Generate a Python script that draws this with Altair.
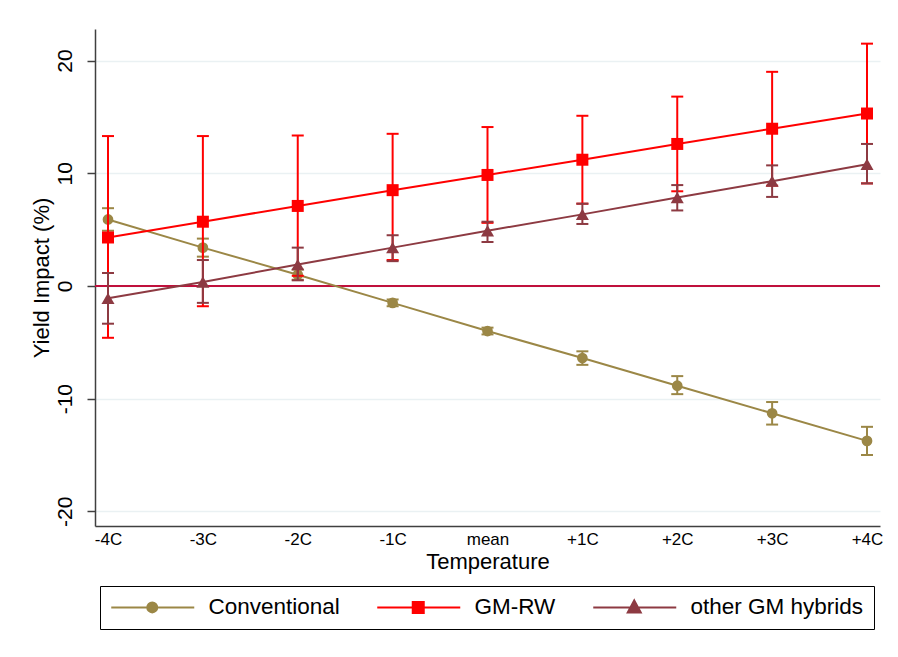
import altair as alt
import pandas as pd

categories = ["-4C", "-3C", "-2C", "-1C", "mean", "+1C", "+2C", "+3C", "+4C"]
series_names = ["Conventional", "GM-RW", "other GM hybrids"]

conv_mean = [5.9, 3.4, 1.0, -1.5, -4.0, -6.4, -8.85, -11.3, -13.75]
conv_low = [4.9, 2.6, 0.55, -1.8, -4.3, -7.0, -9.6, -12.3, -15.0]
conv_high = [6.9, 4.2, 1.45, -1.2, -3.7, -5.8, -8.0, -10.3, -12.5]

gmrw_mean = [4.3, 5.7, 7.1, 8.5, 9.85, 11.2, 12.6, 13.95, 15.3]
gmrw_low = [-4.6, -1.8, 0.9, 2.3, 5.6, 7.3, 8.4, 8.9, 9.1]
gmrw_high = [13.3, 13.3, 13.35, 13.5, 14.1, 15.1, 16.8, 19.0, 21.5]

other_mean = [-1.1, 0.35, 1.9, 3.4, 4.9, 6.35, 7.85, 9.3, 10.8]
other_low = [-3.35, -1.5, 0.5, 2.2, 3.9, 5.5, 6.7, 7.9, 9.1]
other_high = [1.15, 2.3, 3.4, 4.5, 5.7, 7.3, 8.95, 10.7, 12.6]

colors = ["#9b8746", "#ff0000", "#8d3a42"]
zero_color = "#c0103c"
FONT = "Liberation Sans"

rows = []
for name, m, lo, hi in [
    ("Conventional", conv_mean, conv_low, conv_high),
    ("GM-RW", gmrw_mean, gmrw_low, gmrw_high),
    ("other GM hybrids", other_mean, other_low, other_high),
]:
    for c, a, b, d in zip(categories, m, lo, hi):
        rows.append({"temp": c, "series": name, "mean": a, "low": b, "high": d})
df = pd.DataFrame(rows)

xenc = alt.X(
    "temp:O",
    sort=categories,
    scale=alt.Scale(type="point", padding=0.137),
    axis=alt.Axis(
        title="Temperature", labelAngle=0, ticks=False, labelPadding=5,
        labelFontSize=17, titleFontSize=22, titlePadding=4, grid=False,
    ),
)
yscale = alt.Scale(domain=[-21.3, 22.8], nice=False, zero=False)
yaxis = alt.Axis(
    title="Yield Impact (%)", values=[-20, -10, 0, 10, 20], labelAngle=270,
    labelAlign="center", labelBaseline="bottom", labelFontSize=21,
    labelExpr="datum.value + ''",
    tickSize=8, labelPadding=12, titleFontSize=22, titlePadding=1,
    grid=True, gridColor="#eaf1f3", gridWidth=1.5,
)

base = alt.Chart(df)

zero = base.mark_rule(color=zero_color, strokeWidth=2).encode(
    y=alt.datum(0, scale=yscale, axis=yaxis)
)

shapes = {"Conventional": ("circle", 115), "GM-RW": ("square", 144), "other GM hybrids": ("triangle-up", 170)}

layers = [zero]
for name, colr in zip(series_names, colors):
    sb = base.transform_filter(alt.datum.series == name)
    rule = sb.mark_rule(strokeWidth=2, color=colr).encode(
        x=xenc, y=alt.Y("low:Q", scale=yscale, axis=yaxis), y2="high:Q"
    )
    tlo = sb.mark_tick(size=12, thickness=2, opacity=1, color=colr).encode(
        x=xenc, y=alt.Y("low:Q", scale=yscale, axis=yaxis)
    )
    thi = sb.mark_tick(size=12, thickness=2, opacity=1, color=colr).encode(
        x=xenc, y=alt.Y("high:Q", scale=yscale, axis=yaxis)
    )
    line = sb.mark_line(strokeWidth=2, color=colr).encode(
        x=xenc, y=alt.Y("mean:Q", scale=yscale, axis=yaxis)
    )
    shp, sz = shapes[name]
    pts = sb.mark_point(filled=True, shape=shp, size=sz, opacity=1, strokeWidth=0, color=colr).encode(
        x=xenc, y=alt.Y("mean:Q", scale=yscale, axis=yaxis)
    )
    layers += [rule, tlo, thi, line, pts]

legend_paths = [
    "M-1,0H7.3M2.6,0A0.5,0.5,0,1,1,3.6,0A0.5,0.5,0,1,1,2.6,0Z",
    "M-1,0H7.3M2.55,-0.55H3.65V0.55H2.55Z",
    "M-1,0H7.3M3.1,-0.7L3.75,0.5L2.45,0.5Z",
]
leg = alt.Legend(
    orient="none", legendX=5, legendY=557, direction="horizontal", title=None,
    labelFontSize=22.5, labelFont=FONT, labelColor="black", labelLimit=400,
    symbolSize=400, symbolStrokeWidth=2, symbolOpacity=1,
    strokeColor="black", fillColor="white",
    padding=10, columnPadding=33, labelOffset=76, cornerRadius=0,
)
legend_layer = base.mark_point(filled=True, strokeWidth=2).encode(
    x=xenc,
    y=alt.Y("mean:Q", scale=yscale, axis=yaxis),
    opacity=alt.value(0),
    fill=alt.Fill("series:N", scale=alt.Scale(domain=series_names, range=colors), legend=leg),
    stroke=alt.Stroke("series:N", scale=alt.Scale(domain=series_names, range=colors), legend=leg),
    shape=alt.Shape("series:N", scale=alt.Scale(domain=series_names, range=legend_paths), legend=leg),
)
layers.append(legend_layer)

chart = alt.layer(*layers).properties(
    width=785, height=497,
    autosize=alt.AutoSizeParams(type="none"),
    padding={"left": 95, "top": 29, "right": 18, "bottom": 131},
    background="white",
).configure_axis(
    labelFont=FONT, titleFont=FONT, labelColor="black", titleColor="black",
    titleFontWeight="normal", domainColor="#404040", domainWidth=1.5,
    tickColor="#404040", tickWidth=1.5,
).configure_view(stroke=None)

chart.save("out.html", embed_options={"renderer": "svg", "actions": False})
